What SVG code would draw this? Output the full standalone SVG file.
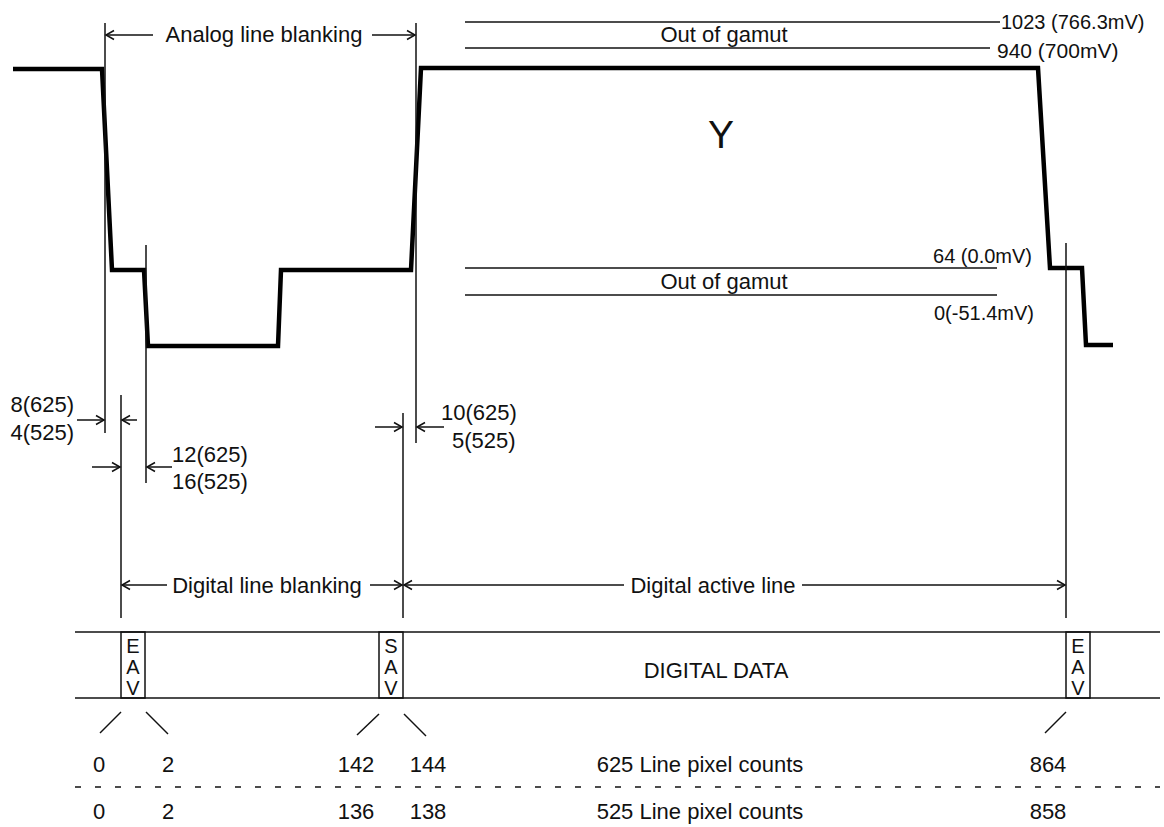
<svg xmlns="http://www.w3.org/2000/svg" width="1164" height="827" viewBox="0 0 1164 827">
<style>
text{font-family:"Liberation Sans",Arial,sans-serif;font-size:22px;fill:#111}
.t{stroke:#111;stroke-width:1.5;fill:none}
.w{stroke:#000;stroke-width:4.5;fill:none;stroke-linejoin:miter}
.a{stroke:#111;stroke-width:1.5;fill:none;marker-end:url(#ah)}
.m{text-anchor:middle}
.e{text-anchor:end}
.s{font-size:20px}
.v{font-size:20px}
</style>
<defs>
<marker id="ah" markerUnits="userSpaceOnUse" markerWidth="12" markerHeight="12" refX="10" refY="6" orient="auto" viewBox="0 0 12 12">
<path d="M2,1.5 L10,6 L2,10.5" fill="none" stroke="#111" stroke-width="1.5"/>
</marker>
</defs>
<rect width="1164" height="827" fill="#fff"/>
<g id="waveform">
<path class="w" d="M13,69 L102,69 L112,270 L144,270 L148,346 L278,346 L281,270 L411,270 L421,68 L1038,68 L1050,268 L1082,268 L1086,345 L1113,345"/>
<text x="721" y="148" class="m" style="font-size:39px">Y</text>
</g>
<g id="levels">
<line class="t" x1="465" y1="22" x2="1000" y2="22"/>
<line class="t" x1="465" y1="48" x2="990" y2="48"/>
<line class="t" x1="465" y1="268" x2="997" y2="268"/>
<line class="t" x1="465" y1="295" x2="997" y2="295"/>
<text x="724" y="42" class="m">Out of gamut</text>
<text x="724" y="289" class="m">Out of gamut</text>
<text x="1001" y="29" class="v">1023 (766.3mV)</text>
<text x="997" y="58" class="v" style="font-size:21px">940 (700mV)</text>
<text x="1032" y="263" class="e v">64 (0.0mV)</text>
<text x="1034" y="320" class="e v">0(-51.4mV)</text>
</g>
<g id="connectors">
<line class="t" x1="105" y1="23" x2="105" y2="433"/>
<line class="t" x1="416" y1="23" x2="416" y2="443"/>
<line class="t" x1="146" y1="245" x2="146" y2="483"/>
<line class="t" x1="121" y1="395" x2="121" y2="618"/>
<line class="t" x1="403" y1="413" x2="403" y2="618"/>
<line class="t" x1="1066" y1="243" x2="1066" y2="618"/>
<line class="a" x1="153" y1="35" x2="106" y2="35"/>
<line class="a" x1="372" y1="35" x2="415" y2="35"/>
<line class="a" x1="77" y1="420" x2="104" y2="420"/>
<line class="a" x1="137" y1="420" x2="122" y2="420"/>
<line class="a" x1="92" y1="467" x2="120" y2="467"/>
<line class="a" x1="172" y1="467" x2="147" y2="467"/>
<line class="a" x1="375" y1="427" x2="402" y2="427"/>
<line class="a" x1="444" y1="427" x2="417" y2="427"/>
<line class="a" x1="167" y1="585" x2="122" y2="585"/>
<line class="a" x1="370" y1="585" x2="402" y2="585"/>
<line class="a" x1="624" y1="585" x2="404" y2="585"/>
<line class="a" x1="802" y1="585" x2="1065" y2="585"/>
</g>
<g id="dim-labels">
<text x="264" y="42" class="m">Analog line blanking</text>
<text x="74" y="412" class="e">8(625)</text>
<text x="74" y="440" class="e">4(525)</text>
<text x="172" y="462">12(625)</text>
<text x="172" y="489">16(525)</text>
<text x="441" y="420">10(625)</text>
<text x="452" y="448">5(525)</text>
<text x="267" y="593" class="m">Digital line blanking</text>
<text x="713" y="593" class="m">Digital active line</text>
</g>
<g id="bus">
<line class="t" x1="75" y1="632" x2="1160" y2="632"/>
<line class="t" x1="75" y1="698" x2="1160" y2="698"/>
<text x="716" y="678" class="m">DIGITAL DATA</text>
</g>
<g id="eav1">
<rect class="t" x="121" y="632" width="24" height="66"/>
<text x="133" y="653" class="m s">E</text><text x="133" y="674" class="m s">A</text><text x="133" y="695" class="m s">V</text>
</g>
<g id="sav">
<rect class="t" x="379" y="632" width="24" height="66"/>
<text x="391" y="653" class="m s">S</text><text x="391" y="674" class="m s">A</text><text x="391" y="695" class="m s">V</text>
</g>
<g id="eav2">
<rect class="t" x="1066" y="632" width="24" height="66"/>
<text x="1078" y="653" class="m s">E</text><text x="1078" y="674" class="m s">A</text><text x="1078" y="695" class="m s">V</text>
</g>
<g id="ticks">
<line class="t" x1="100" y1="733" x2="121" y2="712"/>
<line class="t" x1="146" y1="712" x2="168" y2="734"/>
<line class="t" x1="357" y1="735" x2="379" y2="714"/>
<line class="t" x1="404" y1="714" x2="426" y2="736"/>
<line class="t" x1="1045" y1="733" x2="1066" y2="712"/>
</g>
<g id="counts">
<text x="99" y="772" class="m">0</text>
<text x="168" y="772" class="m">2</text>
<text x="356" y="772" class="m">142</text>
<text x="428" y="772" class="m">144</text>
<text x="700" y="772" class="m">625 Line pixel counts</text>
<text x="1048" y="772" class="m">864</text>
<line x1="75" y1="787" x2="1160" y2="787" stroke="#111" stroke-width="1.5" stroke-dasharray="6 14"/>
<text x="99" y="819" class="m">0</text>
<text x="168" y="819" class="m">2</text>
<text x="356" y="819" class="m">136</text>
<text x="428" y="819" class="m">138</text>
<text x="700" y="819" class="m">525 Line pixel counts</text>
<text x="1048" y="819" class="m">858</text>
</g>
</svg>
